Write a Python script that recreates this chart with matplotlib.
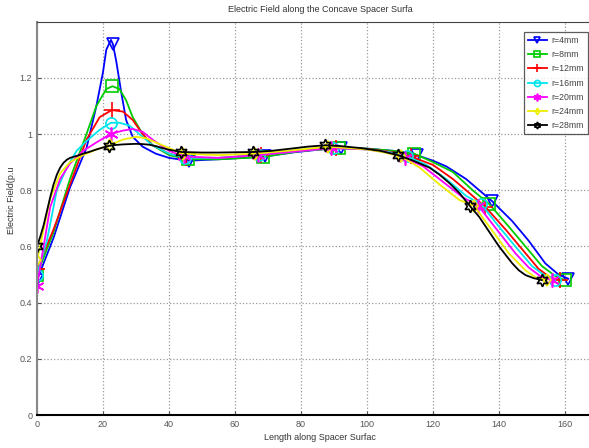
import matplotlib
matplotlib.use("Agg")
import matplotlib.pyplot as plt

plt.rcParams['font.family'] = ['Liberation Sans', 'DejaVu Sans']

labels = ["r=4mm", "r=8mm", "r=12mm", "r=16mm", "r=20mm", "r=24mm", "r=28mm"]

x_r4 = [0, 5, 10, 15, 18, 20, 21, 22.4, 23, 24, 25.5, 27, 29, 32, 36, 40, 46, 55, 62, 69, 78, 86, 92, 100, 108, 115, 120, 124, 130, 134, 138, 144, 149, 154, 158, 161]
y_r4 = [0.48, 0.63, 0.81, 0.95, 1.10, 1.22, 1.30, 1.335, 1.32, 1.26, 1.15, 1.05, 0.99, 0.955, 0.93, 0.915, 0.905, 0.91, 0.915, 0.92, 0.935, 0.945, 0.95, 0.948, 0.94, 0.925, 0.905, 0.885, 0.84, 0.80, 0.76, 0.69, 0.62, 0.54, 0.50, 0.485]
m_r4 = [0, 8, 16, 19, 22, 25, 30, 35]

x_r8 = [0, 5, 10, 15, 18, 21, 22.86, 25, 27, 29, 32, 35, 40, 45.7, 55, 68.6, 80, 91.4, 100, 108, 114.3, 120, 126, 132, 137.1, 143, 148, 153, 157, 160]
y_r8 = [0.50, 0.65, 0.84, 1.0, 1.10, 1.16, 1.17, 1.16, 1.12, 1.06, 1.0, 0.96, 0.925, 0.91, 0.91, 0.918, 0.94, 0.95, 0.948, 0.94, 0.93, 0.90, 0.865, 0.80, 0.75, 0.67, 0.60, 0.53, 0.495, 0.48]
m_r8 = [0, 6, 13, 15, 17, 20, 24, 29]

x_r12 = [0, 5, 10, 15, 19, 22.64, 26, 29, 32, 35, 40, 45.3, 55, 67.9, 80, 90.6, 100, 108, 113.2, 120, 126, 131, 135.9, 142, 147, 152, 155.5, 158.5]
y_r12 = [0.52, 0.66, 0.82, 0.98, 1.06, 1.085, 1.08, 1.05, 1.0, 0.96, 0.93, 0.915, 0.915, 0.925, 0.94, 0.95, 0.947, 0.935, 0.92, 0.89, 0.84, 0.79, 0.74, 0.66, 0.59, 0.52, 0.49, 0.48]
m_r12 = [0, 5, 11, 13, 15, 18, 22, 27]

x_r16 = [0, 3, 6, 9, 12, 15, 19, 22.4, 25, 28, 31, 35, 40, 44.9, 55, 67.3, 80, 89.7, 100, 107, 112.1, 118, 124, 130, 134.6, 140, 146, 150, 154, 157]
y_r16 = [0.50, 0.62, 0.80, 0.88, 0.94, 0.975, 1.015, 1.04, 1.04, 1.03, 1.0, 0.96, 0.93, 0.915, 0.915, 0.925, 0.94, 0.95, 0.945, 0.935, 0.92, 0.89, 0.84, 0.78, 0.75, 0.67, 0.585, 0.53, 0.495, 0.48]
m_r16 = [0, 7, 13, 15, 17, 20, 24, 29]

x_r20 = [0, 2, 4, 7, 10, 14, 18, 22.3, 26, 29, 32, 35, 40, 44.6, 55, 66.9, 80, 89.1, 100, 106, 111.4, 117, 123, 129, 133.7, 139, 145, 149, 153, 156]
y_r20 = [0.46, 0.60, 0.74, 0.84, 0.895, 0.94, 0.97, 1.0, 1.012, 1.018, 1.008, 0.98, 0.94, 0.92, 0.915, 0.925, 0.94, 0.95, 0.945, 0.935, 0.915, 0.885, 0.83, 0.775, 0.745, 0.665, 0.575, 0.525, 0.49, 0.48]
m_r20 = [0, 7, 13, 15, 17, 20, 24, 29]

x_r24 = [0, 2, 4, 7, 10, 14, 18, 22.1, 26, 30, 33, 36, 40, 44.1, 55, 66.2, 80, 88.3, 100, 105, 110.4, 116, 122, 128, 132.4, 138, 143, 148, 151, 154.5]
y_r24 = [0.55, 0.66, 0.77, 0.86, 0.90, 0.925, 0.945, 0.96, 0.98, 0.99, 0.985, 0.97, 0.95, 0.93, 0.925, 0.93, 0.945, 0.955, 0.945, 0.935, 0.92, 0.88, 0.82, 0.765, 0.745, 0.655, 0.575, 0.515, 0.49, 0.48]
m_r24 = [0, 7, 13, 15, 17, 20, 24, 29]

x_r28 = [0, 1, 2, 3, 4, 5, 6, 7, 8, 9, 10, 12, 14, 16, 18, 20, 21.9, 24, 26, 28, 30, 32, 34, 36, 38, 40, 43.7, 50, 55, 60, 65.6, 71, 77, 82, 87.4, 92, 98, 104, 109.3, 114, 119, 122, 125, 128, 131.1, 134, 136, 138, 140, 142, 144, 146, 148, 150.5, 153]
y_r28 = [0.60, 0.635, 0.675, 0.725, 0.775, 0.82, 0.855, 0.88, 0.897, 0.908, 0.915, 0.922, 0.93, 0.937, 0.945, 0.952, 0.958, 0.961, 0.963, 0.964, 0.965, 0.964, 0.962, 0.957, 0.95, 0.944, 0.936, 0.934, 0.934, 0.935, 0.936, 0.94, 0.948, 0.955, 0.96, 0.957, 0.95, 0.94, 0.925, 0.905, 0.88, 0.855, 0.825, 0.79, 0.745, 0.705, 0.67, 0.635, 0.60, 0.57, 0.54, 0.515, 0.498, 0.487, 0.48]
m_r28 = [0, 16, 26, 30, 34, 38, 44, 54]

series = [
    (x_r4, y_r4, m_r4, '#0000ff', 'v', 9, 'none'),
    (x_r8, y_r8, m_r8, '#00cc00', 's', 8, 'none'),
    (x_r12, y_r12, m_r12, '#ff0000', '+', 11, 'none'),
    (x_r16, y_r16, m_r16, '#00e5ee', 'o', 8, 'none'),
    (x_r20, y_r20, m_r20, '#ff00ff', (6, 2, 0), 10, 'none'),
    (x_r24, y_r24, m_r24, '#eeee00', 'd', 6, 'none'),
    (x_r28, y_r28, m_r28, '#000000', (6, 1, 0), 9, 'none'),
]

fig = plt.figure(figsize=(5.89, 4.48), dpi=100)
ax = fig.add_axes([37 / 589, 33 / 448, 552 / 589, 393 / 448])

for (xs, ys, mk, col, mar, ms, mfc), lab in zip(series, labels):
    ax.plot(xs, ys, color=col, lw=1.3, marker=mar, markersize=ms,
            markerfacecolor=mfc, markeredgecolor=col, markeredgewidth=1.2,
            markevery=mk, label=lab)

ax.set_xlim(0, 552 / 3.3)
ax.set_ylim(0, 393 / 281)
ax.set_xticks([0, 20, 40, 60, 80, 100, 120, 140, 160])
ax.set_yticks([0, 0.2, 0.4, 0.6, 0.8, 1.0, 1.2])
ax.set_yticklabels(["0", "0.2", "0.4", "0.6", "0.8", "1", "1.2"])
ax.tick_params(direction='in', labelsize=6.5, labelcolor='#555555', length=3,
               color='#555555')
ax.grid(True, linestyle=':', color='#999999', linewidth=0.9)
ax.spines['right'].set_visible(False)
ax.spines['left'].set_color('#888888')
ax.spines['left'].set_linewidth(1.5)
ax.spines['bottom'].set_linewidth(1.5)
ax.spines['top'].set_color('#444444')

leg = ax.legend(loc='upper right', bbox_to_anchor=(588 / 589, 1 - 32 / 448),
                bbox_transform=fig.transFigure, fontsize=6.3, markerscale=0.55,
                frameon=True, fancybox=False, edgecolor='#333333',
                handlelength=2.2, borderpad=0.45, labelspacing=0.6,
                handletextpad=0.5, borderaxespad=0)
leg.get_frame().set_linewidth(0.9)
for t in leg.get_texts():
    t.set_color('#444444')

fig.text(320 / 589, 1 - 10 / 448, "Electric Field along the Concave Spacer Surfa",
         ha='center', va='center', fontsize=6.5, color='#333333')
fig.text(320 / 589, 1 - 437 / 448, "Length along Spacer Surfac",
         ha='center', va='center', fontsize=6.5, color='#333333')
fig.text(12 / 589, 1 - 200 / 448, "Electric Field(p.u", rotation=90,
         ha='center', va='center', fontsize=6.5, color='#333333')

fig.savefig("out.png", dpi=100)
